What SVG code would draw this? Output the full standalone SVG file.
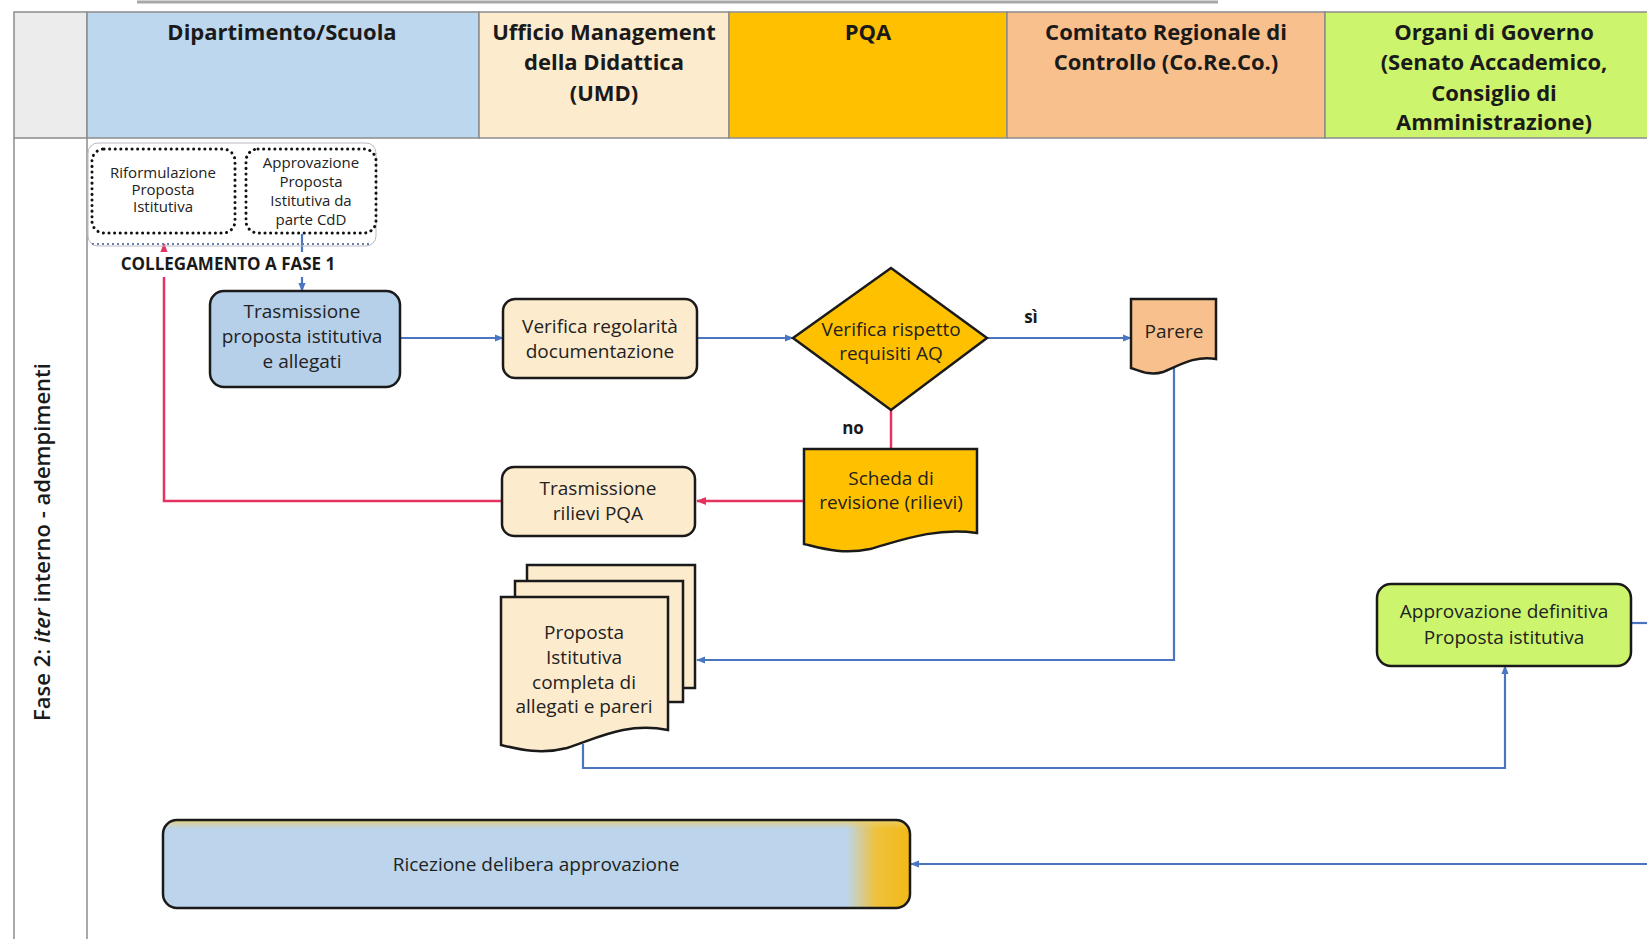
<svg xmlns="http://www.w3.org/2000/svg" width="1647" height="939" viewBox="0 0 1647 939">
<defs>
<style>
.hdr{font-family:"Open Sans","Liberation Sans",sans-serif;font-weight:700;font-size:22px;fill:#1a1a1a;text-anchor:middle}
.t{font-family:"Open Sans","Liberation Sans",sans-serif;font-size:19px;fill:#222;text-anchor:middle}
.sm{font-family:"Open Sans","Liberation Sans",sans-serif;font-size:15px;fill:#222;text-anchor:middle}
.lbl{font-family:"Open Sans","Liberation Sans",sans-serif;font-weight:700;font-size:17px;fill:#1a1a1a;text-anchor:middle}
.cell{stroke:#8c8c8c;stroke-width:1.5}
.grid{stroke:#8c8c8c;stroke-width:1.5;fill:none}
.box{stroke:#1a1a1a;stroke-width:2.5}
.dot{fill:#fff;stroke:#111;stroke-width:3;stroke-dasharray:0.1 5.5;stroke-linecap:round}
.blue{stroke:#4a76c0;stroke-width:2.2;fill:none}
.red{stroke:#e5325f;stroke-width:2.5;fill:none}
</style>
<marker id="ab" viewBox="0 0 10 10" refX="9" refY="5" markerWidth="9" markerHeight="9" markerUnits="userSpaceOnUse" orient="auto"><path d="M0,1 L10,5 L0,9 Z" fill="#4a76c0"/></marker>
<marker id="ar" viewBox="0 0 10 10" refX="9" refY="5" markerWidth="10" markerHeight="10" markerUnits="userSpaceOnUse" orient="auto"><path d="M0,1 L10,5 L0,9 Z" fill="#e5325f"/></marker>
<linearGradient id="gRic" x1="0" y1="0" x2="1" y2="0"><stop offset="0" stop-color="#bcd5ec"/><stop offset="0.915" stop-color="#bcd5ec"/><stop offset="0.955" stop-color="#efc13a"/><stop offset="1" stop-color="#f2b918"/></linearGradient>
<linearGradient id="gTop" x1="0" y1="0" x2="0" y2="1"><stop offset="0" stop-color="#e9cf6e" stop-opacity="0.9"/><stop offset="0.1" stop-color="#e9cf6e" stop-opacity="0"/></linearGradient>
</defs>
<rect width="1647" height="939" fill="#fff"/>
<line x1="137" y1="2" x2="1218" y2="2" stroke="#a8a8a8" stroke-width="3"/>

<g id="lanes">
<rect class="cell" x="14" y="12" width="73" height="126" fill="#ececec"/>
<rect class="cell" x="87" y="12" width="392" height="126" fill="#bdd7ee"/>
<rect class="cell" x="479" y="12" width="250" height="126" fill="#fdebcd"/>
<rect class="cell" x="729" y="12" width="278" height="126" fill="#ffc000"/>
<rect class="cell" x="1007" y="12" width="318" height="126" fill="#f8c08c"/>
<rect class="cell" x="1325" y="12" width="330" height="126" fill="#ccf46c"/>
<line class="grid" x1="14" y1="138" x2="14" y2="939"/>
<line class="grid" x1="87" y1="138" x2="87" y2="939"/>
<text class="hdr" x="282" y="40">Dipartimento/Scuola</text>
<text class="hdr" x="604" y="40">Ufficio Management</text>
<text class="hdr" x="604" y="70">della Didattica</text>
<text class="hdr" x="604" y="101">(UMD)</text>
<text class="hdr" x="868" y="40">PQA</text>
<text class="hdr" x="1166" y="40">Comitato Regionale di</text>
<text class="hdr" x="1166" y="70">Controllo (Co.Re.Co.)</text>
<text class="hdr" x="1494" y="40">Organi di Governo</text>
<text class="hdr" x="1494" y="70">(Senato Accademico,</text>
<text class="hdr" x="1494" y="101">Consiglio di</text>
<text class="hdr" x="1494" y="130">Amministrazione)</text>
<text transform="translate(50,542) rotate(-90)" font-family="Open Sans, Liberation Sans, sans-serif" font-size="22" font-weight="600" fill="#1a1a1a" text-anchor="middle">Fase 2: <tspan font-style="italic">iter</tspan> interno - adempimenti</text>
</g>

<g id="connectors">
<path class="red" d="M502,501 H164 V244" marker-end="url(#ar)"/>
<path class="red" d="M804,501 H697" marker-end="url(#ar)"/>
<path class="red" d="M891,410 V449"/>
<path class="blue" d="M302,234 V291" marker-end="url(#ab)"/>
<path class="blue" d="M400,338 H503" marker-end="url(#ab)"/>
<path class="blue" d="M697,338 H793" marker-end="url(#ab)"/>
<path class="blue" d="M987,338 H1131" marker-end="url(#ab)"/>
<path class="blue" d="M1174,367 V660 H697" marker-end="url(#ab)"/>
<path class="blue" d="M583,744 V768 H1505 V666" marker-end="url(#ab)"/>
<path class="blue" d="M1631,623 H1647"/>
<path class="blue" d="M1647,864 H911" marker-end="url(#ab)"/>
</g>

<g id="fase1">
<rect x="88" y="143" width="288" height="103" rx="10" fill="none" stroke="#b8b8c6" stroke-width="1"/>
<line x1="92" y1="244" x2="372" y2="244" stroke="#6a7fa8" stroke-width="2" stroke-dasharray="2 3"/>
</g>
<g id="riformulazione">
<rect class="dot" x="92" y="149" width="143" height="84" rx="12"/>
<text class="sm" x="163" y="178">Riformulazione</text>
<text class="sm" x="163" y="195">Proposta</text>
<text class="sm" x="163" y="212">Istitutiva</text>
</g>
<g id="approvazione-cdd">
<rect class="dot" x="246" y="149" width="130" height="84" rx="12"/>
<text class="sm" x="311" y="168">Approvazione</text>
<text class="sm" x="311" y="187">Proposta</text>
<text class="sm" x="311" y="206">Istitutiva da</text>
<text class="sm" x="311" y="225">parte CdD</text>
</g>
<g id="collegamento">
<rect x="114" y="252" width="230" height="25" fill="#fff"/>
<text class="lbl" x="228" y="270" font-size="16.5">COLLEGAMENTO A FASE 1</text>
</g>

<g id="trasmissione">
<rect class="box" x="210" y="291" width="190" height="96" rx="14" fill="#b7d0ea"/>
<text class="t" x="302" y="318">Trasmissione</text>
<text class="t" x="302" y="343">proposta istitutiva</text>
<text class="t" x="302" y="368">e allegati</text>
</g>
<g id="verifica-regolarita">
<rect class="box" x="503" y="299" width="194" height="79" rx="12" fill="#fdebcd"/>
<text class="t" x="600" y="333">Verifica regolarità</text>
<text class="t" x="600" y="358">documentazione</text>
</g>
<g id="verifica-aq">
<polygon class="box" points="891,268 987,338 891,410 793,338" fill="#ffc000"/>
<text class="t" x="891" y="336">Verifica rispetto</text>
<text class="t" x="891" y="360">requisiti AQ</text>
</g>
<g id="label-si"><text class="lbl" x="1031" y="323">sì</text></g>
<g id="label-no"><text class="lbl" x="853" y="434">no</text></g>
<g id="parere">
<path class="box" d="M1131,299 H1216 V359 C1195,355 1178,366 1163,372 C1150,376 1140,371 1131,368 Z" fill="#f8c08c"/>
<text class="t" x="1174" y="338">Parere</text>
</g>
<g id="scheda">
<path class="box" d="M804,449 H977 V533 C934,527 899,541 870,549 C842,555 821,548 804,544 Z" fill="#ffc000"/>
<text class="t" x="891" y="485">Scheda di</text>
<text class="t" x="891" y="509">revisione (rilievi)</text>
</g>
<g id="trasmissione-rilievi">
<rect class="box" x="502" y="467" width="193" height="69" rx="12" fill="#fdebcd"/>
<text class="t" x="598" y="495">Trasmissione</text>
<text class="t" x="598" y="520">rilievi PQA</text>
</g>
<g id="proposta-completa">
<rect class="box" x="527" y="565" width="168" height="123" fill="#fdebcd"/>
<rect class="box" x="515" y="581" width="168" height="121" fill="#fdebcd"/>
<path class="box" d="M501,597 H668 V730 C626,722 598,738 567,748 C540,755 518,749 501,745 Z" fill="#fdebcd"/>
<text class="t" x="584" y="639">Proposta</text>
<text class="t" x="584" y="664">Istitutiva</text>
<text class="t" x="584" y="689">completa di</text>
<text class="t" x="584" y="713">allegati e pareri</text>
</g>
<g id="approvazione-definitiva">
<rect class="box" x="1377" y="584" width="254" height="82" rx="14" fill="#ccf46c"/>
<text class="t" x="1504" y="618" fill="#1f3a1f">Approvazione definitiva</text>
<text class="t" x="1504" y="644" fill="#1f3a1f">Proposta istitutiva</text>
</g>
<g id="ricezione">
<rect x="163" y="820" width="747" height="88" rx="14" fill="url(#gRic)"/>
<rect x="163" y="820" width="747" height="88" rx="14" fill="url(#gTop)"/>
<rect class="box" x="163" y="820" width="747" height="88" rx="14" fill="none"/>
<text class="t" x="536" y="871">Ricezione delibera approvazione</text>
</g>
</svg>
